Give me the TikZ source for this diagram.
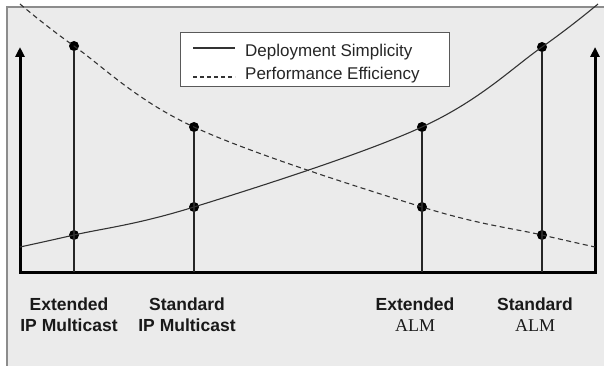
\documentclass[tikz,border=0pt]{standalone}
\usepackage{fontspec}
\setmainfont{Liberation Sans}
\newfontfamily\almfont{Liberation Serif}
\usetikzlibrary{arrows.meta}
\definecolor{fondo}{HTML}{EBEBEB}
\definecolor{marco}{HTML}{8C8C8C}
\definecolor{curva}{HTML}{333333}
\tikzstyle{dot} = [
  circle,
  fill=black,
  inner sep=0pt,
  minimum size=10pt
]
\tikzstyle{eje} = [line width=3pt,<->,>={Triangle[length=10pt,width=9pt]}]
\tikzstyle{vline} = [line width=1.3pt, draw=black!85]
\tikzstyle{simple} = [line width=1.1pt, draw=curva]
\tikzstyle{rayado} = [line width=1.1pt, draw=curva, dash pattern=on 5pt off 3.5pt]
\tikzstyle{leyendatxt} = [
  anchor=base west,
  inner sep=0pt,
  text=black!85,
  font=\fontsize{17}{20}\selectfont
]
\tikzstyle{etiqueta} = [
  align=center,
  anchor=base,
  inner sep=0pt,
  text=black!90,
  font=\fontsize{17.5}{21}\selectfont\bfseries
]

\begin{document}
\begin{tikzpicture}[x=1pt, y=-1pt]
    \useasboundingbox (0,0) rectangle (604,366);

    % Fondo y marco
    \fill [fondo] (7,7) rectangle (604,366);
    \draw [marco, line width=1.5pt] (7,366) -- (7,7) -- (604,7);

    % Ejes
    \coordinate (origen) at (20,272);
    \coordinate (fin) at (595,272);
    \coordinate (ejeizq) at (20,47);
    \coordinate (ejeder) at (595,47);
    \draw [eje] (ejeizq) -- (origen) -- (fin) -- (ejeder);

    % Puntos de las dos curvas
    \node (eipm-p) [dot] at (74,46) {};
    \node (eipm-d) [dot] at (74,235) {};
    \node (sipm-p) [dot] at (194,127) {};
    \node (sipm-d) [dot] at (194,207) {};
    \node (ealm-d) [dot] at (422,127) {};
    \node (ealm-p) [dot] at (422,207) {};
    \node (salm-d) [dot] at (542,47) {};
    \node (salm-p) [dot] at (542,235) {};

    % Lineas verticales desde el eje
    \coordinate (eipm-base) at (74,272);
    \coordinate (sipm-base) at (194,272);
    \coordinate (ealm-base) at (422,272);
    \coordinate (salm-base) at (542,272);
    \draw [vline] (eipm-base) -- (eipm-p);
    \draw [vline] (sipm-base) -- (sipm-p);
    \draw [vline] (ealm-base) -- (ealm-d);
    \draw [vline] (salm-base) -- (salm-d);

    % Curvas
    \coordinate (ds-ini) at (20,247);
    \coordinate (ds-fin) at (598,4);
    \coordinate (pe-ini) at (20,4);
    \coordinate (pe-fin) at (595,247);
    \draw [simple] plot [smooth, tension=0.6] coordinates {(ds-ini) (eipm-d.center) (sipm-d.center) (ealm-d.center) (salm-d.center) (ds-fin)};
    \draw [rayado] plot [smooth, tension=0.6] coordinates {(pe-ini) (eipm-p.center) (sipm-p.center) (ealm-p.center) (salm-p.center) (pe-fin)};

    % Leyenda
    \node (leyenda) [rectangle, draw=black!65, line width=1pt, fill=white, minimum width=269pt, minimum height=54pt, inner sep=0pt] at (314.5,60) {};
    \coordinate (ley1a) at (193,48);
    \coordinate (ley1b) at (235,48);
    \coordinate (ley2a) at (193,77);
    \coordinate (ley2b) at (235,77);
    \draw [simple] (ley1a) -- (ley1b);
    \draw [rayado, dash pattern=on 4pt off 3pt] (ley2a) -- (ley2b);
    \node (ley1) [leyendatxt] at (245,57) {Deployment Simplicity};
    \node (ley2) [leyendatxt] at (245,80) {Performance Efficiency};

    % Etiquetas bajo el eje
    \node (eipm) [etiqueta] at (69,331) {Extended\\IP Multicast};
    \node (sipm) [etiqueta] at (187,331) {Standard\\IP Multicast};
    \node (ealm) [etiqueta] at (415,331) {Extended\\{\almfont\mdseries\fontsize{18}{21}\selectfont ALM}};
    \node (salm) [etiqueta] at (535,331) {Standard\\{\almfont\mdseries\fontsize{18}{21}\selectfont ALM}};

\end{tikzpicture}
\end{document}
